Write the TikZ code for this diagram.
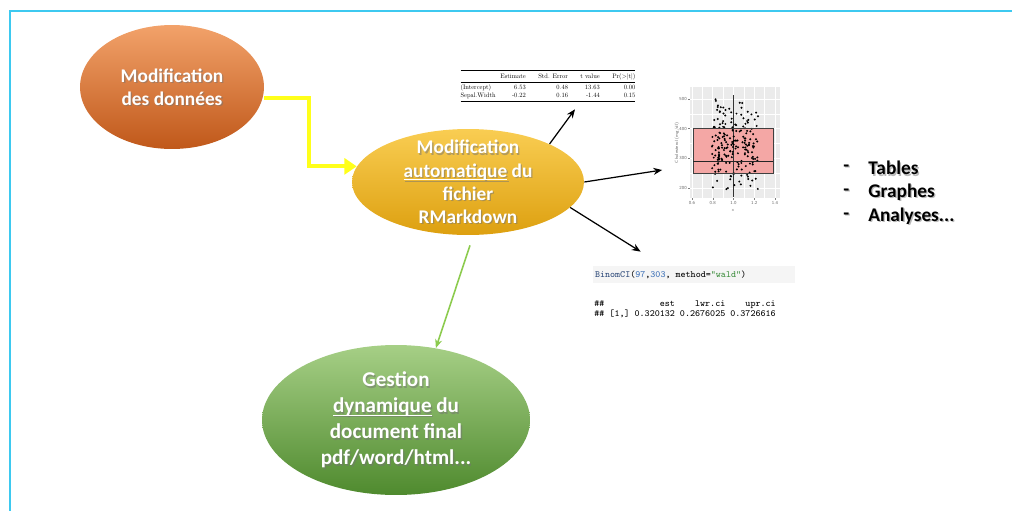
\documentclass[tikz,border=0pt]{standalone}
\usepackage{fontspec}
\newfontfamily\calib{Carlito}
\usepackage{graphicx}
\usepackage{booktabs}
\usepackage{tikz}
\usetikzlibrary{arrows.meta, calc, shapes.geometric, positioning}

\definecolor{frameblue}{HTML}{3DC9F0}
\definecolor{orangetop}{HTML}{F2A26A}
\definecolor{orangebot}{HTML}{C0581A}
\definecolor{goldtop}{HTML}{F9CD52}
\definecolor{goldbot}{HTML}{DDA010}
\definecolor{greentop}{HTML}{A6CF86}
\definecolor{greenbot}{HTML}{4F8A2E}
\definecolor{linkyellow}{HTML}{FFFF1A}
\definecolor{linkgreen}{HTML}{8CCB4E}
\definecolor{panelgray}{HTML}{EBEBEB}
\definecolor{boxpink}{HTML}{F4A7A5}
\definecolor{codegray}{HTML}{F5F5F5}
\definecolor{codefun}{HTML}{2E4A7A}
\definecolor{codenum}{HTML}{3B6FB6}
\definecolor{codestr}{HTML}{3E8E3E}

% text with a soft drop shadow: name, position, style, text
\newcommand{\shadowed}[4]{%
  \node[#3, text=black!55, opacity=0.5] (#1-sh) at ($(#2)+(1.3,1.3)$) {#4};
  \node[#3] (#1) at (#2) {#4};}

\begin{document}
\begin{tikzpicture}[x=0.02cm, y=-0.02cm,
    oval/.style={ellipse, inner sep=0pt, draw=none},
    ovtext/.style={font=\calib\bfseries\fontsize{11}{13.2}\selectfont, align=center, text=white, inner sep=0pt},
    bigtext/.style={ovtext, font=\calib\bfseries\fontsize{12}{14.8}\selectfont},
    listtext/.style={font=\calib\bfseries\fontsize{11}{12}\selectfont, text=black, anchor=west, inner sep=0pt},
    yarr/.style={-{Triangle[length=7pt,width=9pt]}, line width=0.08cm, draw=linkyellow},
    barr/.style={-{Stealth[length=5pt,width=4pt]}, line width=0.7pt},
    garr/.style={-{Stealth[length=5pt,width=4pt]}, line width=0.9pt, draw=linkgreen},
    ticklab/.style={font=\sffamily\fontsize{2.6}{3}\selectfont, text=black!60, inner sep=0.5pt},
    codefont/.style={font=\ttfamily\fontsize{5.4}{4.6}\selectfont, inner sep=0pt},
    codebox/.style={fill=codegray, minimum width=4.04cm, minimum height=0.34cm, inner sep=0pt}
  ]
\useasboundingbox (0,0) rectangle (1012,511);

% frame
\draw[frameblue, line width=0.04cm] (1012,11) -- (10,11) -- (10,511);

% the three ovals
\node[oval, top color=orangetop, bottom color=orangebot, minimum width=3.68cm, minimum height=2.48cm] (donnees) at (172,87) {};
\node[oval, top color=goldtop, bottom color=goldbot, minimum width=4.64cm, minimum height=2.12cm] (auto) at (468,182) {};
\node[oval, top color=greentop, bottom color=greenbot, minimum width=5.36cm, minimum height=3cm] (gestion) at (396,420) {};

\shadowed{donnees-txt}{donnees}{ovtext}{Modification\\des données}
\shadowed{auto-txt}{auto}{ovtext}{Modification\\\underline{\smash{automatique}} du\\fichier\\RMarkdown}
\shadowed{gestion-txt}{gestion}{bigtext}{Gestion\\\underline{\smash{dynamique}} du\\document final\\pdf/word/html...}

% regression table, set at 10pt and shrunk
\node[inner sep=0pt] (tab) at (548,86) {%
  \scalebox{0.37}{\normalsize
  \setlength{\heavyrulewidth}{1.5pt}\setlength{\lightrulewidth}{1pt}%
  \begin{tabular*}{9.46cm}{@{}l@{\extracolsep{\fill}}rrrr@{}}
    \toprule
    & Estimate & Std. Error & t value & Pr(>|t|)\\
    \midrule
    (Intercept) & 6.53 & 0.48 & 13.63 & 0.00\\
    Sepal.Width & -0.22 & 0.16 & -1.44 & 0.15\\
    \bottomrule
  \end{tabular*}}};

% boxplot
\node[inner sep=0pt, minimum width=2.3cm, minimum height=2.6cm] (plot) at (725,150) {};
\fill[panelgray] (690,87) rectangle (780,198);
\foreach \v in {250,350,450}
  \draw[white, line width=0.25pt] (690,{188-(\v-200)*0.2967}) -- (780,{188-(\v-200)*0.2967});
\foreach \v in {200,300,400,500}{
  \draw[white, line width=0.5pt] (690,{188-(\v-200)*0.2967}) -- (780,{188-(\v-200)*0.2967});
  \draw[black!50, line width=0.2pt] (688,{188-(\v-200)*0.2967}) -- (690,{188-(\v-200)*0.2967});
  \node[ticklab, anchor=east] (yt\v) at (688,{188-(\v-200)*0.2967}) {\v};
}
\foreach \u in {0.7,0.9,1.1,1.3}
  \draw[white, line width=0.25pt] ({692+(\u-0.6)*103.75},87) -- ({692+(\u-0.6)*103.75},198);
\foreach \u [count=\k] in {0.6,0.8,1.0,1.2,1.4}{
  \draw[white, line width=0.5pt] ({692+(\u-0.6)*103.75},87) -- ({692+(\u-0.6)*103.75},198);
  \draw[black!50, line width=0.2pt] ({692+(\u-0.6)*103.75},198) -- ({692+(\u-0.6)*103.75},200);
  \node[ticklab, anchor=north] (xt\k) at ({692+(\u-0.6)*103.75},200) {\u};
}
\fill[boxpink] (693,{188-(400-200)*0.2967}) rectangle (773,{188-(250-200)*0.2967});
\draw[black!80, line width=0.4pt] (733.5,95) -- (733.5,197);
\pgfmathsetseed{7}
\foreach \i in {1,...,210}{
  \pgfmathsetmacro\px{712+46*rnd}
  \pgfmathsetmacro\py{188-(175+345*(rnd+rnd)/2-200)*0.2967}
  \fill (\px,\py) circle (0.022cm);
}
\draw[black!75, line width=0.35pt] (693,{188-(400-200)*0.2967}) rectangle (773,{188-(250-200)*0.2967});
\draw[black!85, line width=0.8pt] (693,{188-(290-200)*0.2967}) -- (773,{188-(290-200)*0.2967});
\node[ticklab, rotate=90] (ytitle) at (677,143) {Cholesterol (mg/dl)};
\node[ticklab] (xtitle) at (733,210) {x};

% R code and its output
\node[codebox] (code) at (694,274.5) {};
\node[codefont, anchor=west] (call) at ($(code.west)+(2,0)$)
  {\textcolor{codefun}{BinomCI}(\textcolor{codenum}{97},\textcolor{codenum}{303}, method=\textcolor{codestr}{"wald"})};
\node[codefont, anchor=north west, align=left] (out) at (594,300)
  {\#\#\phantom{00000000000}est\phantom{0000}lwr.ci\phantom{0000}upr.ci\\
   \#\# [1,] 0.320132 0.2676025 0.3726616};

% list of outputs
\shadowed{dash1}{843,168}{listtext}{-}
\shadowed{dash2}{843,192}{listtext}{-}
\shadowed{dash3}{843,216}{listtext}{-}
\shadowed{tables}{868,168}{listtext}{Tables}
\shadowed{graphes}{868,192}{listtext}{Graphes}
\shadowed{analyses}{868,216}{listtext}{Analyses...}

% connectors
\draw[yarr] ($(donnees.east)+(0,11)$) -| ($(auto.172)+(-48,0)$) -- (auto.172);
\draw[barr] (auto.25) -- ($(tab.south)+(27,7)$);
\draw[barr] (auto.east) -- ($(plot.west)+(-5,20)$);
\draw[barr] (auto.-14) -- ($(code.north west)+(48,-14)$);
\draw[garr] ($(auto.south)+(2,10)$) -- (gestion.61);
\end{tikzpicture}
\end{document}
